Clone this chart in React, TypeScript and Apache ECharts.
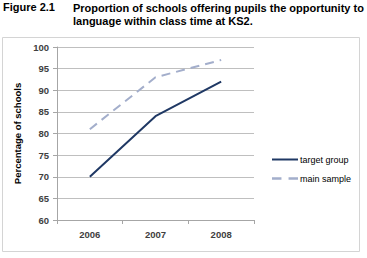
import React, { useEffect, useRef } from "react";
import * as echarts from "echarts";

const categories = ["2006", "2007", "2008"];
const targetGroup = [70, 84, 92];
const mainSample = [81, 93, 97];
const yTicks = { min: 60, max: 100, interval: 5 };

export default function App() {
  const ref = useRef<HTMLDivElement>(null);
  useEffect(() => {
    const chart = echarts.init(ref.current!, null, { renderer: "svg" });
    const font = "Liberation Sans, Arial, sans-serif";
    chart.setOption({
      animation: false,
      backgroundColor: "#ffffff",
      graphic: [
        {
          type: "text",
          left: 3,
          top: 1,
          style: { text: "Figure 2.1", font: `bold 11px ${font}`, fill: "#000" },
        },
        {
          type: "text",
          left: 73,
          top: 1,
          style: {
            text: "Proportion of schools offering pupils the opportunity to\nlanguage within class time at KS2.",
            font: `bold 11px ${font}`,
            lineHeight: 13.5,
            fill: "#000",
          },
        },
        {
          type: "rect",
          shape: { x: 2.5, y: 37.5, width: 357, height: 214 },
          style: { fill: "none", stroke: "#d4d4d4", lineWidth: 1 },
          z: -1,
        },
      ],
      grid: { left: 57, right: 113, top: 47, bottom: 38 },
      legend: {
        orient: "vertical",
        left: 267,
        top: 150,
        itemWidth: 26,
        itemHeight: 10,
        itemGap: 10,
        textStyle: { fontSize: 9, fontFamily: font, color: "#000", padding: [0, 0, 0, -3] },
        data: [
          { name: "target group", icon: "path://M0,0L26,0L26,2L0,2Z" },
          { name: "main sample", icon: "path://M0,0L8,0L8,2L0,2ZM14,0L22,0L22,2L14,2Z" },
        ],
      },
      xAxis: {
        type: "category",
        data: categories,
        boundaryGap: true,
        axisLine: { lineStyle: { color: "#a6a6a6" } },
        axisTick: { show: true, length: 4, lineStyle: { color: "#a6a6a6" } },
        axisLabel: { fontSize: 9.5, fontWeight: "bold", color: "#404040", fontFamily: font, margin: 9 },
      },
      yAxis: {
        type: "value",
        min: yTicks.min,
        max: yTicks.max,
        interval: yTicks.interval,
        name: "Percentage of schools",
        nameLocation: "middle",
        nameGap: 32,
        nameTextStyle: { fontSize: 9.5, fontWeight: "bold", color: "#000", fontFamily: font },
        axisLine: { show: true, lineStyle: { color: "#a6a6a6" } },
        axisTick: { show: true, length: 4, lineStyle: { color: "#a6a6a6" } },
        axisLabel: { fontSize: 9.5, fontWeight: "bold", color: "#404040", fontFamily: font, margin: 8 },
        splitLine: { lineStyle: { color: "#bfbfbf", width: 1 } },
      },
      series: [
        {
          name: "target group",
          type: "line",
          data: targetGroup,
          symbol: "none",
          lineStyle: { color: "#1f3864", width: 2 },
          itemStyle: { color: "#1f3864" },
        },
        {
          name: "main sample",
          type: "line",
          data: mainSample,
          symbol: "none",
          lineStyle: { color: "#a3aecb", width: 2, type: [9, 6] },
          itemStyle: { color: "#a3aecb" },
        },
      ],
    });
    return () => chart.dispose();
  }, []);
  return (
    <div
      ref={ref}
      style={{ position: "fixed", left: 0, top: 0, width: 367, height: 258 }}
    />
  );
}
